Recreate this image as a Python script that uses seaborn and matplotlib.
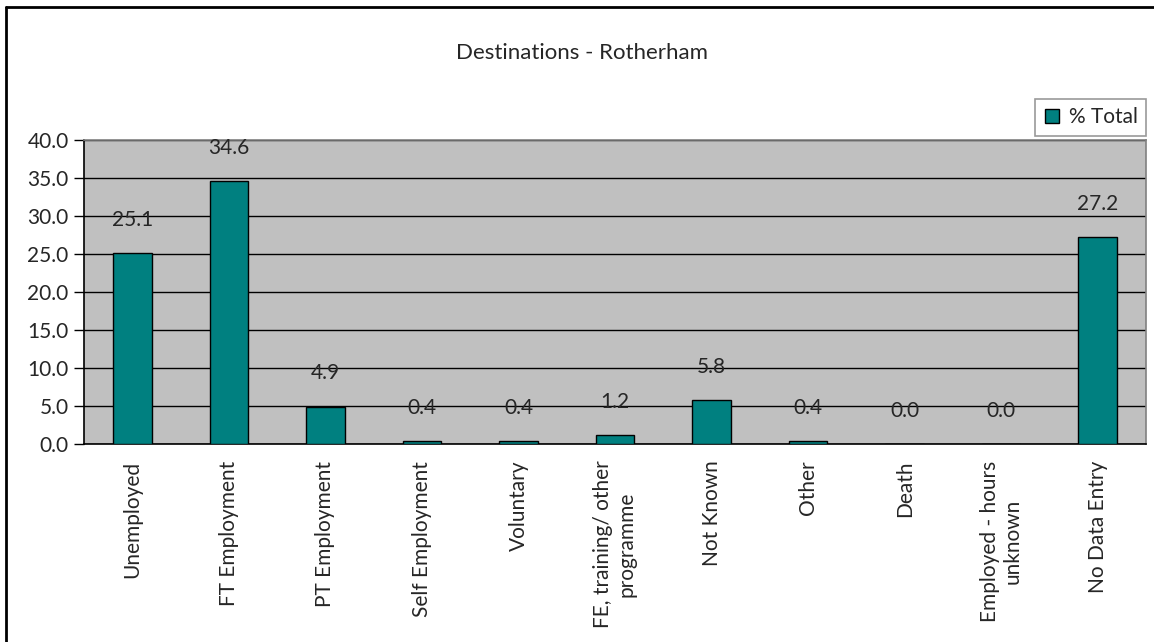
import pandas as pd
import seaborn as sns
import matplotlib.pyplot as plt
from matplotlib.lines import Line2D
from matplotlib.ticker import FixedLocator

categories = ['Unemployed', 'FT Employment', 'PT Employment', 'Self Employment',
              'Voluntary', 'FE, training/ other\nprogramme', 'Not Known', 'Other',
              'Death', 'Employed - hours\nunknown', 'No Data Entry']
pct_total = [25.1, 34.6, 4.9, 0.4, 0.4, 1.2, 5.8, 0.4, 0.0, 0.0, 27.2]
y_ticks = [0, 5, 10, 15, 20, 25, 30, 35, 40]

df = pd.DataFrame({'destination': categories, 'pct': pct_total})

sns.set_style('white')
plt.rcParams['font.family'] = ['Lato', 'DejaVu Sans']
fs = 15

fig = plt.figure(figsize=(11.54, 6.42), dpi=100)
ax = fig.add_axes([84 / 1154, 1 - 444 / 642, (1146 - 84) / 1154, (444 - 140) / 642])
ax.set_facecolor('#C0C0C0')

sns.barplot(data=df, x='destination', y='pct', color='#008080', width=0.4,
            edgecolor='black', linewidth=1, saturation=1, ax=ax, label='% Total',
            zorder=3)

# value labels above bars
for i, v in enumerate(pct_total):
    ax.annotate(f'{v:.1f}', (i, v), xytext=(0, 24), textcoords='offset points',
                ha='center', va='center', fontsize=fs, zorder=4)

ax.set_ylim(0, 40)
ax.set_xlim(-0.5, len(categories) - 0.5)
ax.set_yticks(y_ticks)
ax.set_yticklabels([f'{t:.1f}' for t in y_ticks], fontsize=fs)
ax.yaxis.grid(True, color='black', linewidth=1, zorder=0)
ax.set_axisbelow(True)

ax.set_xticks(range(len(categories)))
ax.set_xticklabels(categories, rotation=90, fontsize=fs, ha='center', va='top',
                   multialignment='center')
ax.tick_params(axis='x', which='major', length=0, pad=12)
ax.xaxis.set_minor_locator(FixedLocator([i - 0.5 for i in range(len(categories) + 1)]))
ax.tick_params(axis='x', which='minor', length=7, width=1, color='black', direction='out')
ax.tick_params(axis='y', length=7, width=1, color='black', direction='out', pad=4,
               left=True)
ax.set_xlabel('')
ax.set_ylabel('')

for side in ['left', 'bottom']:
    ax.spines[side].set_color('black')
    ax.spines[side].set_linewidth(1.2)
for side in ['top', 'right']:
    ax.spines[side].set_visible(True)
    ax.spines[side].set_color('#808080')
    ax.spines[side].set_linewidth(1.2)

fig.text(582 / 1154, 1 - 53 / 642, 'Destinations - Rotherham', ha='center', va='center',
         fontsize=16)

handle = Line2D([], [], marker='s', linestyle='none', markersize=10,
                markerfacecolor='#008080', markeredgecolor='black', markeredgewidth=1)
leg = fig.legend([handle], ['% Total'], loc='upper right',
                 bbox_to_anchor=(1146 / 1154, 1 - 99 / 642), fontsize=fs,
                 frameon=True, fancybox=False, borderpad=0.4, handlelength=0.8,
                 handletextpad=0.4, borderaxespad=0)
leg.get_frame().set_edgecolor('#808080')
leg.get_frame().set_linewidth(1.2)
if ax.get_legend() is not None:
    ax.get_legend().remove()

# outer chart frame (left and top edges visible)
fig.add_artist(Line2D([6 / 1154, 6 / 1154], [0, 1 - 7 / 642], color='black', linewidth=2,
                      transform=fig.transFigure))
fig.add_artist(Line2D([6 / 1154, 1], [1 - 7 / 642, 1 - 7 / 642], color='black',
                      linewidth=2, transform=fig.transFigure))

fig.savefig('out.png', dpi=100)
